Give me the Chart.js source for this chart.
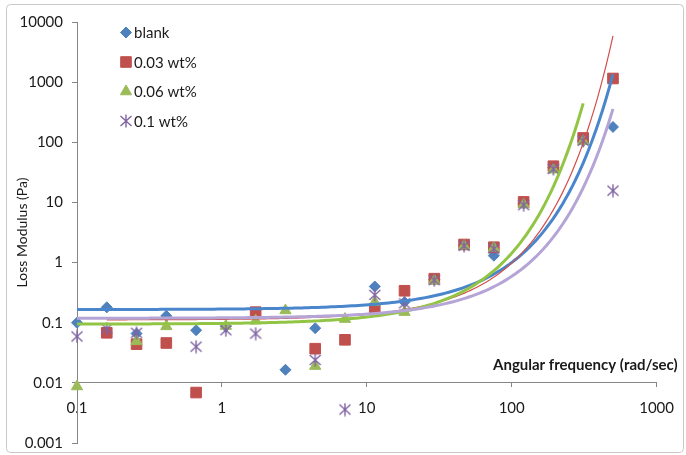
<!DOCTYPE html>
<html>
<head>
<meta charset="utf-8">
<title>Loss modulus vs angular frequency</title>
<script src="https://cdn.jsdelivr.net/npm/chart.js@4.4.1/dist/chart.umd.min.js"></script>
<style>
  html, body { margin: 0; padding: 0; background: #fff; }
  #wrap { width: 686px; height: 455px; }
</style>
</head>
<body>
<div id="wrap"><canvas id="lossChart" width="686" height="455"></canvas></div>
<script>
// angular frequency of each sweep step (rad/sec)
const freq = [0.1, 0.1605, 0.2576, 0.4135, 0.6637, 1.065, 1.71, 2.745, 4.405, 7.07,
              11.35, 18.21, 29.23, 46.92, 75.31, 120.9, 194.0, 311.4, 500];

// loss modulus (Pa) per step, null where no point was recorded
const blank = [0.100, 0.180, 0.066, 0.130, 0.075, 0.086, null, 0.0165, 0.081, null,
               0.40, 0.22, 0.52, 1.95, 1.30, 9.6, 38, 105, 180];
const wt003 = [null, 0.068, 0.044, 0.046, 0.0069, null, 0.150, null, 0.037, 0.052,
               0.170, 0.340, 0.54, 2.0, 1.80, 10.2, 40, 118, 1150];
const wt006 = [0.0087, null, 0.049, 0.087, null, 0.088, 0.108, 0.160, 0.019, 0.115,
               0.220, 0.150, 0.50, 1.9, 1.75, 9.2, 35, 104, null];
const wt01  = [0.059, 0.080, 0.068, null, 0.040, 0.075, 0.066, null, 0.024, 0.0036,
               0.29, 0.21, 0.51, 1.9, 1.70, 9.0, 36, 106, 15.7];

const seriesNames = ['blank', '0.03 wt%', '0.06 wt%', '0.1 wt%'];

const xTicks = [0.1, 1, 10, 100, 1000];
const xTickLabels = ['0.1', '1', '10', '100', '1000'];
const yTicks = [0.001, 0.01, 0.1, 1, 10, 100, 1000, 10000];
const yTickLabels = ['0.001', '0.01', '0.1', '1', '10', '100', '1000', '10000'];

const FONT = 'Lato, "Open Sans", sans-serif';
const AXIS = '#868686';
const TEXT = '#1a1a1a';
Chart.defaults.font.family = FONT;

function toPoints(ys) {
  return freq.map((x, i) => ({ x: x, y: ys[i] })).filter(p => p.y != null);
}

// exponential trendline y = a*e^(b*x), least squares on ln(y)
function expTrend(ys) {
  const pts = toPoints(ys);
  const n = pts.length;
  let sx = 0, sy = 0, sxx = 0, sxy = 0;
  pts.forEach(p => {
    const ly = Math.log(p.y);
    sx += p.x; sy += ly; sxx += p.x * p.x; sxy += p.x * ly;
  });
  const b = (n * sxy - sx * sy) / (n * sxx - sx * sx);
  const a = Math.exp((sy - b * sx) / n);
  const x0 = pts[0].x, x1 = pts[n - 1].x;
  const out = [];
  const steps = 160;
  for (let k = 0; k <= steps; k++) {
    const x = x0 * Math.pow(x1 / x0, k / steps);
    out.push({ x: x, y: a * Math.exp(b * x) });
  }
  return out;
}

// asterisk marker: X with a vertical bar
function starMarker(size, color) {
  const c = document.createElement('canvas');
  c.width = size; c.height = size;
  const g = c.getContext('2d');
  g.strokeStyle = color;
  g.lineWidth = 1.4;
  const m = size / 2;
  g.beginPath();
  g.moveTo(m, 0.5); g.lineTo(m, size - 0.5);
  g.moveTo(1.5, 2); g.lineTo(size - 1.5, size - 2);
  g.moveTo(size - 1.5, 2); g.lineTo(1.5, size - 2);
  g.stroke();
  return c;
}

const markerSets = [
  { label: seriesNames[0], data: toPoints(blank), pointStyle: 'rectRot', pointRadius: 5.5,
    backgroundColor: '#4F81BD', borderColor: '#4F81BD', order: 8 },
  { label: seriesNames[1], data: toPoints(wt003), pointStyle: 'rect', pointRadius: 7.5,
    backgroundColor: '#C0504D', borderColor: '#C0504D', order: 7 },
  { label: seriesNames[2], data: toPoints(wt006), pointStyle: 'triangle', pointRadius: 6.5,
    backgroundColor: '#9BBB59', borderColor: '#9BBB59', order: 6 },
  { label: seriesNames[3], data: toPoints(wt01), pointStyle: starMarker(14, '#8064A2'), pointRadius: 7,
    backgroundColor: '#8064A2', borderColor: '#8064A2', order: 5 }
].map(ds => Object.assign(ds, { showLine: false, borderWidth: 1, clip: false }));

const trendSets = [
  { data: expTrend(blank), borderColor: '#4A86CC', borderWidth: 3, order: 4 },
  { data: expTrend(wt003), borderColor: '#D24E4A', borderWidth: 1.2, order: 3 },
  { data: expTrend(wt006), borderColor: '#92C545', borderWidth: 3, order: 2 },
  { data: expTrend(wt01),  borderColor: '#B5A5D6', borderWidth: 3, order: 1 }
].map(ds => Object.assign(ds, { label: '', showLine: true, pointRadius: 0, tension: 0, fill: false }));

// legend drawn inside the plot, top left
const insideLegend = {
  id: 'insideLegend',
  afterDraw(chart) {
    const { ctx, chartArea } = chart;
    const mx = chartArea.left + 49;
    const y0 = chartArea.top + 10.5;
    markerSets.forEach((ds, i) => {
      const y = y0 + i * 29.5;
      ctx.save();
      ctx.fillStyle = ds.backgroundColor;
      ctx.strokeStyle = ds.borderColor;
      ctx.lineWidth = 1;
      Chart.helpers.drawPoint(ctx, { pointStyle: ds.pointStyle, radius: ds.pointRadius, rotation: 0, borderWidth: 1 }, mx, y);
      ctx.fillStyle = TEXT;
      ctx.font = '15px ' + FONT;
      ctx.textBaseline = 'middle';
      ctx.textAlign = 'left';
      ctx.fillText(ds.label, mx + 8, y + 1);
      ctx.restore();
    });

    // x axis title sits above the axis line at the right
    const yAxisAt = chart.scales.y.getPixelForValue(0.01);
    ctx.save();
    ctx.fillStyle = TEXT;
    ctx.font = 'bold 15px ' + FONT;
    ctx.textAlign = 'right';
    ctx.textBaseline = 'middle';
    ctx.fillText('Angular frequency (rad/sec)', chartArea.right + 21, yAxisAt - 18);
    ctx.restore();
  },
  beforeDraw(chart) {
    const ctx = chart.ctx;
    ctx.save();
    ctx.strokeStyle = '#c8c8c8';
    ctx.lineWidth = 1;
    ctx.beginPath();
    if (ctx.roundRect) ctx.roundRect(6.5, 4.5, 677, 448, 4);
    else ctx.rect(6.5, 4.5, 677, 448);
    ctx.stroke();
    ctx.restore();
  }
};

new Chart(document.getElementById('lossChart'), {
  type: 'scatter',
  data: { datasets: markerSets.concat(trendSets) },
  options: {
    responsive: false,
    animation: false,
    layout: { padding: { left: 10, top: 22, right: 23, bottom: 12 } },
    plugins: {
      legend: { display: false },
      tooltip: { enabled: false }
    },
    scales: {
      x: {
        type: 'logarithmic',
        min: 0.1,
        max: 1000,
        position: { y: 0.01 },
        afterBuildTicks: s => { s.ticks = xTicks.map(v => ({ value: v })); },
        ticks: {
          autoSkip: false,
          maxRotation: 0,
          padding: 12,
          color: TEXT,
          font: { size: 15 },
          callback: v => xTickLabels[xTicks.indexOf(v)]
        },
        grid: { drawOnChartArea: false, tickLength: 4, tickColor: AXIS },
        border: { color: AXIS, width: 1 }
      },
      y: {
        type: 'logarithmic',
        min: 0.001,
        max: 10000,
        afterBuildTicks: s => { s.ticks = yTicks.map(v => ({ value: v })); },
        afterFit: s => {
          s.width = 67;
          s.paddingTop = 0;
          s.paddingBottom = 0;
        },
        ticks: {
          autoSkip: false,
          padding: 9,
          color: TEXT,
          font: { size: 15 },
          callback: v => yTickLabels[yTicks.indexOf(v)]
        },
        grid: { drawOnChartArea: false, tickLength: 5, tickColor: AXIS },
        border: { color: AXIS, width: 1 },
        title: {
          display: true,
          text: 'Loss Modulus (Pa)',
          color: TEXT,
          font: { size: 14 },
          padding: { top: 4, bottom: 0 }
        }
      }
    }
  },
  plugins: [insideLegend]
});
</script>
</body>
</html>
